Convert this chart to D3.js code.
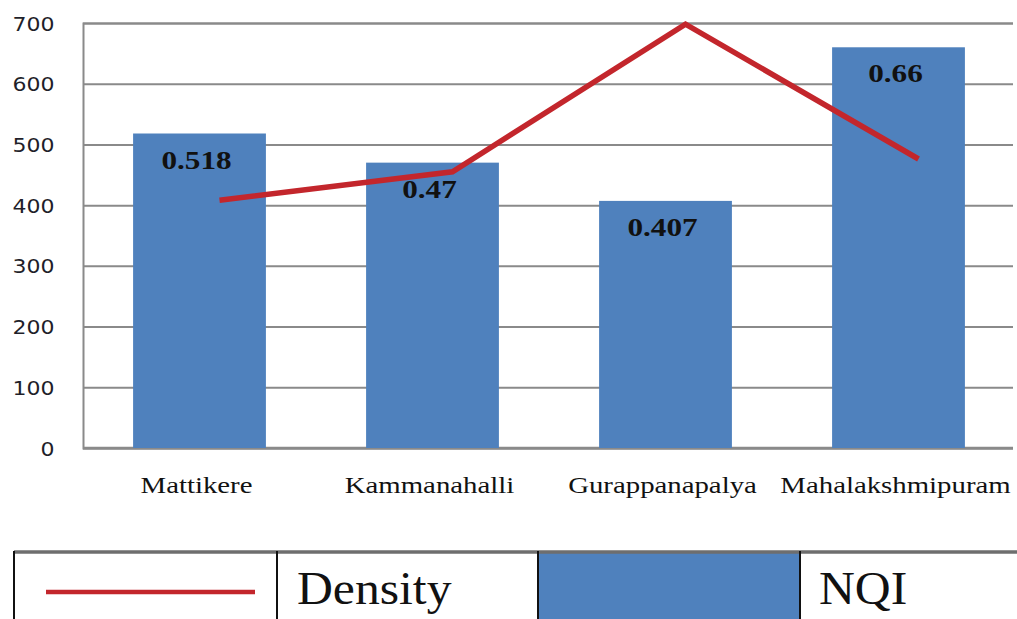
<!DOCTYPE html>
<html>
<head>
<meta charset="utf-8">
<script src="https://cdn.jsdelivr.net/npm/d3@7"></script>
<style>
  html, body { margin: 0; padding: 0; background: #fff; }
  svg { display: block; }
</style>
</head>
<body>
<div id="chart"></div>
<script>
// data
const areas = ["Mattikere", "Kammanahalli", "Gurappanapalya", "Mahalakshmipuram"];
const nqi = [0.518, 0.47, 0.407, 0.66];          // bar labels
const nqiScaled = [518, 470, 407, 660];          // bar heights on the 0-700 axis
const density = [408, 455, 698, 476];
const yTicks = [0, 100, 200, 300, 400, 500, 600, 700];
const legendNames = ["Density", "NQI"];

const W = 1017, H = 619;
const blue = "#4f81bd", red = "#c3262c", grid = "#8a8a8a";

const svg = d3.select("#chart").append("svg")
    .attr("width", W)
    .attr("height", H);

const x = d3.scaleBand()
    .domain(areas)
    .range([83, 1015])
    .paddingInner(0.43)
    .paddingOuter(0.215);

const y = d3.scaleLinear()
    .domain([0, 700])
    .range([448, 23]);

// gridlines + y labels
const yAxis = d3.axisLeft(y)
    .tickValues(yTicks)
    .tickSize(-(1013 - 83))
    .tickPadding(0);

const gy = svg.append("g")
    .attr("transform", "translate(83,0)")
    .call(yAxis);
gy.select(".domain").attr("stroke", grid).attr("stroke-width", 2);
gy.selectAll(".tick line").attr("stroke", grid).attr("stroke-width", 2);
gy.selectAll(".tick text")
    .attr("x", -26)
    .attr("dy", "0.35em")
    .attr("text-anchor", "end")
    .attr("fill", "#1f1f2a")
    .style("font-family", "'DejaVu Sans', sans-serif")
    .style("font-size", "20px")
    .attr("transform", function() { return "scale(1.1,1)"; });

// baseline
svg.append("line")
    .attr("x1", 83).attr("x2", 1013)
    .attr("y1", y(0)).attr("y2", y(0))
    .attr("stroke", grid).attr("stroke-width", 2.5);

// bars
svg.selectAll("rect.bar")
    .data(areas)
    .enter()
    .append("rect")
        .attr("class", "bar")
        .attr("x", d => x(d))
        .attr("y", (d, i) => y(nqiScaled[i]))
        .attr("width", x.bandwidth())
        .attr("height", (d, i) => y(0) - y(nqiScaled[i]))
        .attr("fill", blue);

// bar value labels (stretched a bit like the original)
const sx = 1.2;
svg.selectAll("text.val")
    .data(areas)
    .enter()
    .append("text")
        .attr("class", "val")
        .attr("transform", (d, i) => `translate(${x(d) + x.bandwidth() / 2 - 3},${y(nqiScaled[i]) + 35}) scale(${sx},1)`)
        .attr("text-anchor", "middle")
        .style("font-family", "'Liberation Serif', serif")
        .style("font-weight", "bold")
        .style("font-size", "26px")
        .attr("fill", "#111")
        .text((d, i) => nqi[i]);

// density line
const lineShift = 20;
const line = d3.line()
    .x((d, i) => x(areas[i]) + x.bandwidth() / 2 + lineShift)
    .y(d => y(d));

svg.append("path")
    .datum(density)
    .attr("d", line)
    .attr("fill", "none")
    .attr("stroke", red)
    .attr("stroke-width", 5.5)
    .attr("stroke-linejoin", "miter");

// category labels
svg.selectAll("text.cat")
    .data(areas)
    .enter()
    .append("text")
        .attr("class", "cat")
        .attr("transform", d => `translate(${x(d) + x.bandwidth() / 2 - 3},493) scale(${sx},1)`)
        .attr("text-anchor", "middle")
        .style("font-family", "'Liberation Serif', serif")
        .style("font-size", "24px")
        .attr("fill", "#111")
        .text(d => d);

// legend table
const lg = svg.append("g");
const cells = [14, 277, 538, 800];

lg.append("rect")
    .attr("x", cells[2]).attr("y", 553)
    .attr("width", cells[3] - cells[2]).attr("height", H - 553)
    .attr("fill", blue);

lg.append("line")
    .attr("x1", 14).attr("x2", W)
    .attr("y1", 552).attr("y2", 552)
    .attr("stroke", "#6e6e6e").attr("stroke-width", 3.5);

lg.selectAll("line.div")
    .data(cells)
    .enter()
    .append("line")
        .attr("class", "div")
        .attr("x1", d => d).attr("x2", d => d)
        .attr("y1", 551).attr("y2", H)
        .attr("stroke", "#111").attr("stroke-width", 2);

lg.append("line")
    .attr("x1", 46).attr("x2", 255)
    .attr("y1", 592).attr("y2", 592)
    .attr("stroke", red).attr("stroke-width", 4.5);

lg.selectAll("text.lg")
    .data(legendNames)
    .enter()
    .append("text")
        .attr("class", "lg")
        .attr("transform", (d, i) => `translate(${i === 0 ? 297 : 819},604) scale(1.08,1)`)
        .style("font-family", "'Liberation Serif', serif")
        .style("font-size", "46px")
        .attr("fill", "#111")
        .text(d => d);
</script>
</body>
</html>
